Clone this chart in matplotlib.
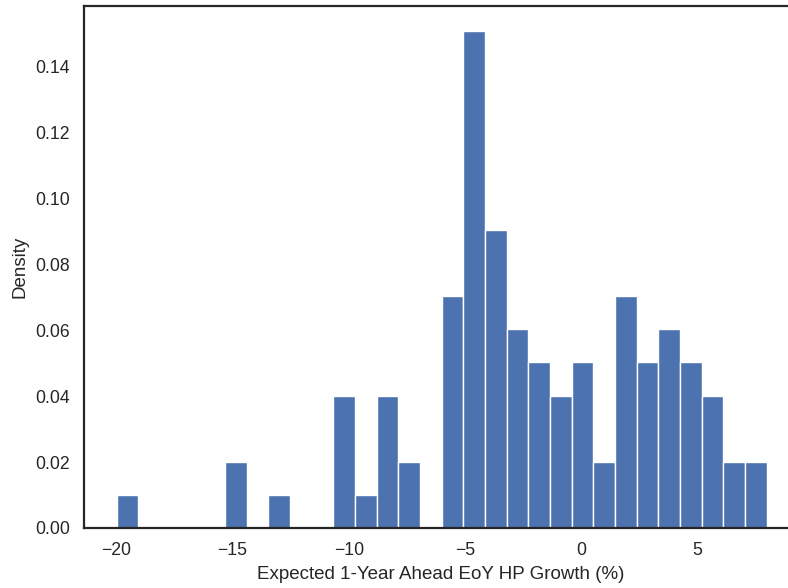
import numpy as np
import matplotlib
matplotlib.use("Agg")
import matplotlib.pyplot as plt

# histogram bins (30 bins from -20 to 8)
bin_start = -20.0
bin_end = 8.0
n_bins = 30
# density per bin
density = [0.0101, 0.0, 0.0, 0.0, 0.0, 0.0201, 0.0, 0.0101, 0.0, 0.0,
           0.0402, 0.0101, 0.0402, 0.0201, 0.0, 0.0704, 0.1509, 0.0905, 0.0604, 0.0503,
           0.0402, 0.0503, 0.0201, 0.0704, 0.0503, 0.0604, 0.0503, 0.0402, 0.0201, 0.0201]
xlabel = "Expected 1-Year Ahead EoY HP Growth (%)"
ylabel = "Density"

edges = np.linspace(bin_start, bin_end, n_bins + 1)
widths = np.diff(edges)

plt.rcParams['font.family'] = ['Liberation Sans', 'DejaVu Sans']
fig = plt.figure(figsize=(7.88, 5.88), dpi=100)
W, H = 788, 588
left, right, top, bottom = 84, 797.5, 6, 528
ax = fig.add_axes([left / W, (H - bottom) / H, (right - left) / W, (bottom - top) / H])

ax.bar(edges[:-1], density, width=widths, align='edge', color='#4C72B0',
       edgecolor='white', linewidth=1.0)
ax.set_xlim(-21.4, 9.33)
ax.set_ylim(0, 0.1509 * 1.05)

ax.set_xticks([-20, -15, -10, -5, 0, 5])
yt = [0.0, 0.02, 0.04, 0.06, 0.08, 0.10, 0.12, 0.14]
ax.set_yticks(yt)
ax.set_yticklabels([f"{v:.2f}" for v in yt])
ax.xaxis.set_major_formatter(matplotlib.ticker.FuncFormatter(lambda v, p: f"{int(v)}".replace('-', '\u2212')))
ax.tick_params(axis='both', length=0, labelsize=12.7, colors='#262626', pad=10)
for s in ax.spines.values():
    s.set_color('#262626')
    s.set_linewidth(1.6)
ax.set_xlabel(xlabel, fontsize=13.5, color='#262626', labelpad=5)
ax.set_ylabel(ylabel, fontsize=13.5, color='#262626', labelpad=5)

fig.savefig("out.png", dpi=100)
